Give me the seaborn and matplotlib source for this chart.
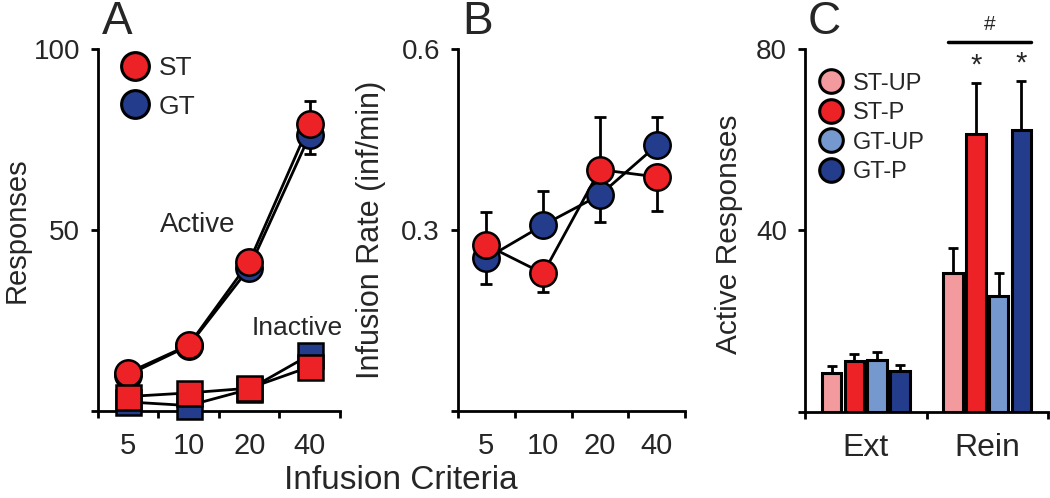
import numpy as np
import pandas as pd
import matplotlib
matplotlib.use("Agg")
import matplotlib.pyplot as plt
from matplotlib.lines import Line2D
import seaborn as sns

# ---------------- data ----------------
criteria = ["5", "10", "20", "40"]

st_active = [10.6, 18.2, 41.2, 79.3]
gt_active = [10.0, 18.0, 39.5, 76.2]
st_active_sem = [1.5, 1.5, 2.0, 6.3]
gt_active_sem = [1.5, 1.5, 2.0, 5.2]

st_inactive = [4.0, 5.0, 6.3, 12.2]
gt_inactive = [2.5, 1.5, 6.0, 15.5]
st_inactive_sem = [1.0, 1.0, 1.0, 1.5]
gt_inactive_sem = [1.0, 1.0, 1.0, 1.5]

st_rate = [0.275, 0.228, 0.400, 0.388]
gt_rate = [0.253, 0.308, 0.358, 0.440]
st_rate_sem = [0.055, 0.030, 0.087, 0.056]
gt_rate_sem = [0.043, 0.057, 0.044, 0.047]

phases = ["Ext", "Rein"]
groups_c = ["ST-UP", "ST-P", "GT-UP", "GT-P"]
ext_values = [8.5, 11.1, 11.4, 9.0]
rein_values = [30.6, 61.2, 25.6, 62.1]
ext_sem = [1.5, 1.6, 1.8, 1.3]
rein_sem = [5.4, 11.4, 4.9, 10.9]
rein_marks = ["", "*", "", "*"]

RED = "#EC2227"
BLUE = "#233C8B"
PINK = "#F39A9E"
LBLUE = "#7598CE"
pal_ab = {"ST": RED, "GT": BLUE}
pal_c = {"ST-UP": PINK, "ST-P": RED, "GT-UP": LBLUE, "GT-P": BLUE}

# ---------------- style ----------------
sns.set_style("ticks")
plt.rcParams["font.family"] = ["Liberation Sans", "DejaVu Sans"]
LW = 2.0

fig = plt.figure(figsize=(10.5, 4.98), dpi=100)
axA = fig.add_axes([0.0933, 0.1747, 0.2305, 0.727])
axB = fig.add_axes([0.4362, 0.1747, 0.2162, 0.727])
axC = fig.add_axes([0.7667, 0.1733, 0.2314, 0.7283])


def long_df(st, gt):
    return pd.DataFrame({
        "crit": criteria * 2,
        "val": list(gt) + list(st),
        "group": ["GT"] * len(criteria) + ["ST"] * len(criteria),
    })


def split_err(vals, other, sem):
    vals, other, sem = map(np.asarray, (vals, other, sem))
    up = np.where(vals >= other, sem, 0.0)
    lo = np.where(vals < other, sem, 0.0)
    return [lo, up]


def draw_series(ax, st, gt, st_sem, gt_sem, marker, ms):
    df = long_df(st, gt)
    # connecting lines
    sns.pointplot(data=df, x="crit", y="val", hue="group", order=criteria,
                  hue_order=["GT", "ST"], palette={"GT": "k", "ST": "k"},
                  markers="", linestyles="-", errorbar=None, legend=False,
                  ax=ax, linewidth=LW, zorder=2)
    # error bars (one sided)
    xs = np.arange(len(criteria))
    for vals, other, sem in ((gt, st, gt_sem), (st, gt, st_sem)):
        ax.errorbar(xs, vals, yerr=split_err(vals, other, sem), fmt="none",
                    ecolor="k", elinewidth=LW, capsize=4, capthick=LW,
                    zorder=1.5, clip_on=False)
    # markers
    sns.pointplot(data=df, x="crit", y="val", hue="group", order=criteria,
                  hue_order=["GT", "ST"], palette=pal_ab,
                  markers=marker, linestyles="none", errorbar=None, legend=False,
                  ax=ax, markersize=ms, markeredgecolor="k", markeredgewidth=1.8,
                  zorder=3, clip_on=False)


def style_axis(ax, labels, yticks, yticklabels, ylim):
    n = len(labels)
    ax.set_xlim(-0.5, n - 0.5)
    ax.set_ylim(*ylim)
    ax.set_xticks(np.arange(n + 1) - 0.5)
    ax.set_xticklabels([""] * (n + 1))
    ax.set_xticks(np.arange(n), minor=True)
    ax.set_xticklabels(labels, minor=True)
    ax.tick_params(axis="x", which="minor", length=0, pad=15, labelsize=21)
    ax.tick_params(which="major", length=5, width=LW, direction="out", color="k")
    ax.set_yticks(yticks)
    ax.set_yticklabels(yticklabels)
    ax.tick_params(axis="y", labelsize=20, pad=8)
    ax.set_xlabel("")
    sns.despine(ax=ax)
    for s in ("left", "bottom"):
        ax.spines[s].set_linewidth(LW)
        ax.spines[s].set_color("k")


# ---------------- panel A ----------------
draw_series(axA, st_active, gt_active, st_active_sem, gt_active_sem, "o", 19)
draw_series(axA, st_inactive, gt_inactive, st_inactive_sem, gt_inactive_sem, "s", 18)
style_axis(axA, criteria, [0, 50, 100], ["", "50", "100"], (0, 100))
axA.set_ylabel("Responses", fontsize=21)
axA.yaxis.set_label_coords(-0.28, 0.5)
axA.text(1.15, 51.4, "Active", fontsize=20, ha="center", va="center")
axA.text(2.79, 22.9, "Inactive", fontsize=19, ha="center", va="center")
hA = [Line2D([], [], marker="o", ls="none", mfc=pal_ab[g], mec="k", ms=20, mew=2.2)
      for g in ("ST", "GT")]
axA.legend(hA, ["ST", "GT"], loc="upper left", bbox_to_anchor=(0.10, 0.98),
           frameon=False, fontsize=19, handlelength=1.0, handletextpad=0.38,
           labelspacing=0.55, borderpad=0, borderaxespad=0)

# ---------------- panel B ----------------
draw_series(axB, st_rate, gt_rate, st_rate_sem, gt_rate_sem, "o", 19)
style_axis(axB, criteria, [0, 0.3, 0.6], ["", "0.3", "0.6"], (0, 0.6))
axB.set_ylabel("Infusion Rate (inf/min)", fontsize=22)
axB.yaxis.set_label_coords(-0.317, 0.5)

fig.text(0.382, 0.035, "Infusion Criteria", fontsize=24, ha="center", va="center")

# ---------------- panel C ----------------
dfc = pd.DataFrame({
    "phase": [p for p in phases for _ in groups_c],
    "group": groups_c * len(phases),
    "val": ext_values + rein_values,
})
sns.barplot(data=dfc, x="phase", y="val", hue="group", order=phases,
            hue_order=groups_c, palette=pal_c, saturation=1, errorbar=None,
            width=0.75, gap=0.15, edgecolor="k", linewidth=2.2, legend=False,
            ax=axC, zorder=2)
bar_conts = list(axC.containers)
sems = {"Ext": ext_sem, "Rein": rein_sem}
for gi, cont in enumerate(bar_conts):
    for pi, patch in enumerate(cont.patches):
        xc = patch.get_x() + patch.get_width() / 2
        top = patch.get_height()
        axC.errorbar([xc], [top], yerr=[[0], [sems[phases[pi]][gi]]], fmt="none",
                     ecolor="k", elinewidth=LW, capsize=3.5, capthick=LW, zorder=1.5)
        if phases[pi] == "Rein" and rein_marks[gi]:
            axC.text(xc, top + sems["Rein"][gi] + 3.8, rein_marks[gi], fontsize=21,
                     ha="center", va="center")
rein_patches = [c.patches[1] for c in bar_conts]
x_left = rein_patches[0].get_x() + 0.04
x_right = rein_patches[-1].get_x() + rein_patches[-1].get_width()
axC.plot([x_left, x_right], [81.6, 81.6], color="k", lw=2.5, clip_on=False)
axC.text((x_left + x_right) / 2, 85.3, "#", fontsize=15, ha="center", va="center")

style_axis(axC, phases, [0, 40, 80], ["", "40", "80"], (0, 80))
axC.tick_params(axis="x", which="minor", labelsize=23)
axC.set_ylabel("Active Responses", fontsize=21.5)
axC.yaxis.set_label_coords(-0.255, 0.49)
hC = [Line2D([], [], marker="o", ls="none", mfc=pal_c[g], mec="k", ms=17, mew=2.2)
      for g in groups_c]
axC.legend(hC, groups_c, loc="upper left", bbox_to_anchor=(0.058, 0.935),
           frameon=False, fontsize=17, handlelength=1.0, handletextpad=0.44,
           labelspacing=0.32, borderpad=0, borderaxespad=0)

# ---------------- panel letters ----------------
fig.text(0.112, 0.955, "A", fontsize=33, ha="center", va="center")
fig.text(0.455, 0.955, "B", fontsize=33, ha="center", va="center")
fig.text(0.785, 0.955, "C", fontsize=33, ha="center", va="center")

fig.savefig("out.png", dpi=100)
